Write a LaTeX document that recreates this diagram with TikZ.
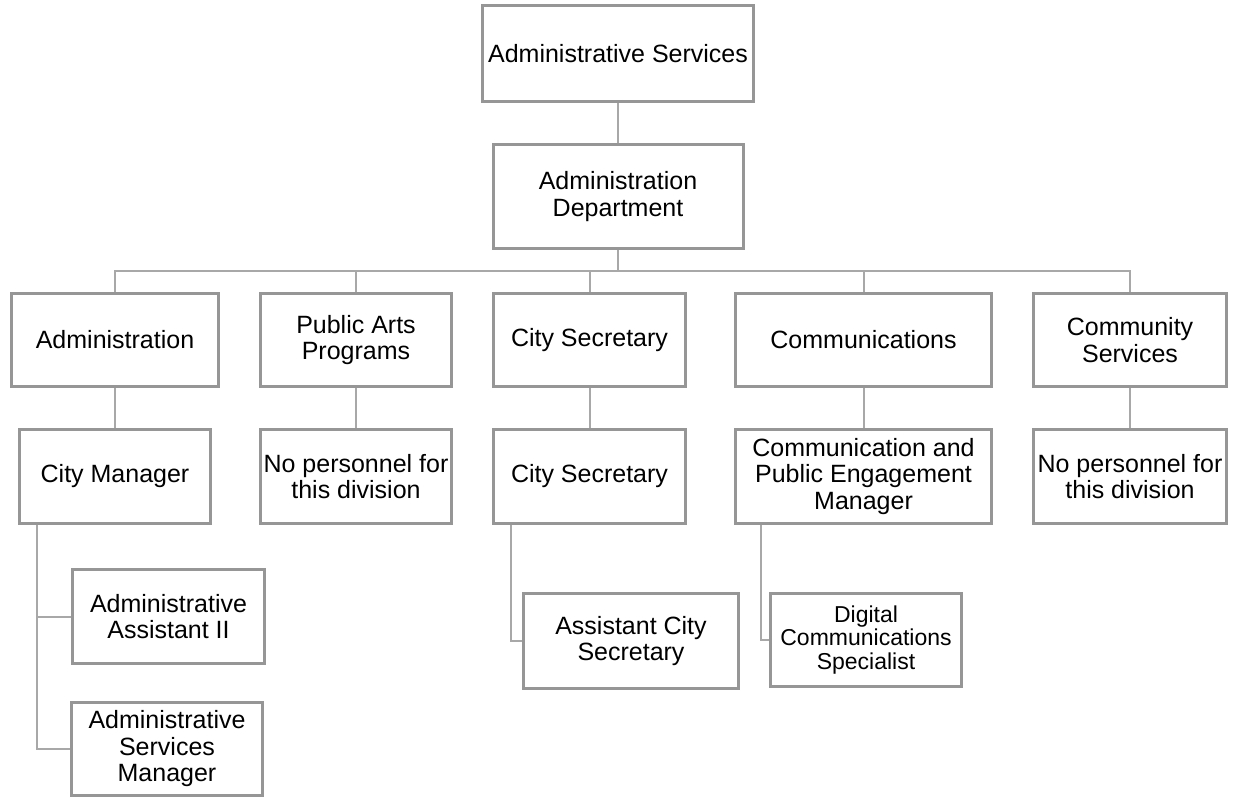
\documentclass[tikz,border=0pt]{standalone}
\usepackage{fontspec}
\setmainfont{Liberation Sans}
\usepackage{tikz}
\usepackage{xcolor}

\definecolor{boxgray}{RGB}{150,150,150}
\definecolor{linkgray}{RGB}{168,168,168}

\tikzset{
  orgbox/.style={rectangle, draw=boxgray, line width=3pt, fill=white, inner sep=0pt,
    align=center, font=\fontsize{25}{26.5}\selectfont},
  smallbox/.style={orgbox, font=\fontsize{23}{23.5}\selectfont},
  link/.style={draw=linkgray, line width=2pt}
}

\begin{document}
\begin{tikzpicture}[x=1pt, y=-1pt]
\useasboundingbox (0,0) rectangle (1238,799);

% top levels
\node[orgbox, minimum width=271pt, minimum height=96pt] (top) at (618,53.5) {Administrative Services};
\node[orgbox, minimum width=250pt, minimum height=104pt] (dept) at (618,196.5) {Administration\\Department};

% divisions
\node[orgbox, minimum width=207pt, minimum height=93pt] (admin) at (115,340) {Administration};
\node[orgbox, minimum width=191pt, minimum height=93pt] (arts) at (356,340) {Public Arts\\Programs};
\node[orgbox, minimum width=192pt, minimum height=93pt] (sec) at (589.5,340) {City Secretary};
\node[orgbox, minimum width=256pt, minimum height=93pt] (comm) at (863.5,340) {Communications};
\node[orgbox, minimum width=193pt, minimum height=93pt] (csvc) at (1130,340) {Community\\Services};

% division heads
\node[orgbox, minimum width=191pt, minimum height=94pt] (mgr) at (115,476.5) {City Manager};
\node[orgbox, minimum width=191pt, minimum height=94pt] (artsnone) at (356,476.5) {No personnel for\\this division};
\node[orgbox, minimum width=192pt, minimum height=94pt] (secclerk) at (589.5,476.5) {City Secretary};
\node[orgbox, minimum width=256pt, minimum height=94pt] (commmgr) at (863.5,476.5) {Communication and\\Public Engagement\\Manager};
\node[orgbox, minimum width=193pt, minimum height=94pt] (csvcnone) at (1130,476.5) {No personnel for\\this division};

% staff
\node[orgbox, minimum width=192pt, minimum height=94pt] (asst) at (168.5,616.5) {Administrative\\Assistant II};
\node[orgbox, minimum width=191pt, minimum height=93pt] (asm) at (167,749) {Administrative\\Services\\Manager};
\node[orgbox, minimum width=215pt, minimum height=95pt] (acs) at (631,641) {Assistant City\\Secretary};
\node[smallbox, minimum width=191pt, minimum height=93pt] (dcs) at (866,640) {Digital\\Communications\\Specialist};

% connectors
\coordinate (bus) at (618,271);
\draw[link] (top.south) -- (dept.north);
\draw[link] (dept.south) -- (bus);
\draw[link] (admin.north) |- (bus);
\draw[link] (csvc.north) |- (bus);
\foreach \n in {arts, sec, comm}
  \draw[link] (\n.north) -- (\n.north |- bus);
\draw[link] (admin.south) -- (mgr.north);
\draw[link] (arts.south) -- (artsnone.north);
\draw[link] (sec.south) -- (secclerk.north);
\draw[link] (comm.south) -- (commmgr.north);
\draw[link] (csvc.south) -- (csvcnone.north);
\draw[link] ([xshift=18.5pt]mgr.south west) |- (asst.west);
\draw[link] ([xshift=18.5pt]mgr.south west) |- (asm.west);
\draw[link] ([xshift=18.5pt]secclerk.south west) |- (acs.west);
\draw[link] ([xshift=26.5pt]commmgr.south west) |- (dcs.west);
\end{tikzpicture}
\end{document}
